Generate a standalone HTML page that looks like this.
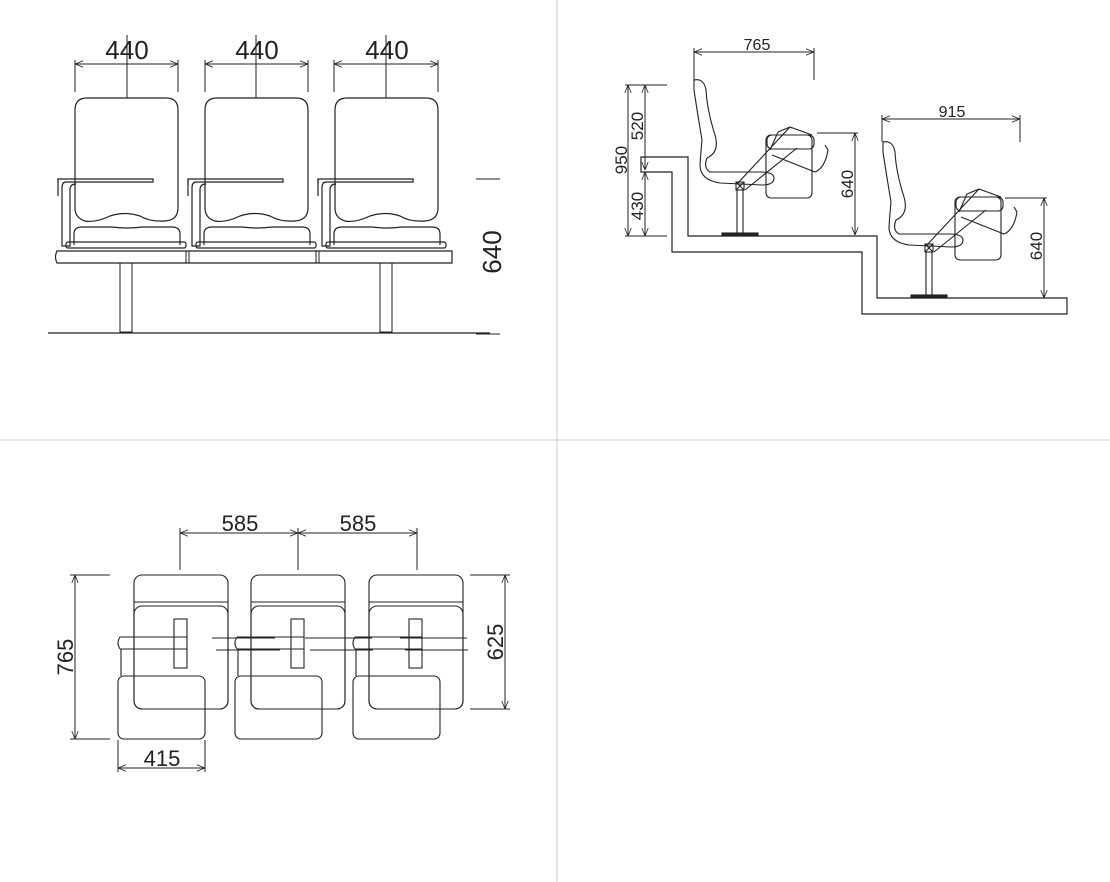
<!DOCTYPE html>
<html><head><meta charset="utf-8"><style>
html,body{margin:0;padding:0;background:#fff;}
svg{display:block;}
text{font-family:"Liberation Sans",sans-serif;fill:#222;}
</style></head><body>
<svg width="1110" height="882" viewBox="0 0 1110 882" xmlns="http://www.w3.org/2000/svg">
<defs>
<marker id="a" viewBox="0 0 10 10" refX="10" refY="5" markerWidth="8" markerHeight="8" orient="auto-start-reverse"><path d="M0,1 L10,5 L0,9" fill="none" stroke="#222" stroke-width="1"/></marker>
<g id="fs" fill="none" stroke="#222" stroke-width="1.2">
<path d="M75,110 Q75,98 87,98 L166,98 Q178,98 178,110 L178,208 Q178,220 165,221 Q150,222 140,216 Q125,211 110,216 Q95,223 85,221 Q75,218 75,208 Z"/>
<path d="M74,245 L74,234 Q74,227 82,227 L112,227 Q127,229 142,227 L172,227 Q180,227 180,234 L180,245"/>
<rect x="66" y="242" width="120" height="6" rx="2"/>
<path d="M58,183 L58,179 L153,179 L153,182 L66,182 Q62,182 62,188 L62,246 L70,246 L70,190 Q70,184 76,184"/>
<path d="M58,179 L58,196"/>
</g>
<g id="sc" fill="none" stroke="#222" stroke-width="1.1">
<path d="M694,80 Q704,78 706,90 Q707,110 715,135 Q720,152 707,158 Q703,168 710,172 L760,172 Q774,172 774,178 Q774,185 762,185 L720,183 Q700,180 700,165 Q701,150 702,140 Q697,110 694,90 Z"/>
<rect x="766" y="135" width="46" height="63" rx="5"/>
<rect x="767" y="135" width="47" height="14" rx="5"/>
<path d="M778,132 L790,127 L812,135 M778,132 L770,150"/>
<path d="M737,184 L790,127 M745,190 L797,148 M772,155 L815,172 Q825,168 828,150 L825,145"/>
<rect x="736" y="182" width="8" height="8"/><path d="M736,182 L744,190 M744,182 L736,190"/>
<path d="M737,190 L737,235 M743,190 L743,235"/>
<rect x="722" y="233" width="36" height="3" fill="#222"/>
</g>
<g id="pv" fill="none" stroke="#222" stroke-width="1.1">
<rect x="134" y="575" width="94" height="134" rx="8"/>
<path d="M134,602 L228,602"/>
<rect x="134" y="606" width="94" height="103" rx="8"/>
<rect x="174" y="619" width="13" height="49"/>
<rect x="118" y="676" width="87" height="63" rx="6"/>
<path d="M120,637 L187,637 M120,649 L187,649 M120,637 Q116,643 120,649 M121,649 L121,676"/>
</g>
</defs>
<path d="M557,0 L557,882 M0,440 L1110,440" stroke="#ccc" stroke-width="1"/>
<!-- top left -->
<use href="#fs"/><use href="#fs" x="130"/><use href="#fs" x="260"/>
<path d="M57,251 L452,251 L452,263 L57,263 Q54,257 57,251 Z" fill="none" stroke="#222" stroke-width="1.2"/>
<path d="M186,251 L186,263 M189,251 L189,263 M316,251 L316,263 M319,251 L319,263" stroke="#222"/>
<rect x="120" y="263" width="12" height="69" fill="none" stroke="#222"/>
<rect x="380" y="263" width="12" height="69" fill="none" stroke="#222"/>
<path d="M48,333 L490,333" stroke="#222" stroke-width="1.2"/>
<g stroke="#222" stroke-width="1" fill="none">
<path d="M75,64 L178,64" marker-start="url(#a)" marker-end="url(#a)"/><path d="M75,60 L75,92 M178,60 L178,92 M127,35 L127,98"/>
<path d="M205,64 L308,64" marker-start="url(#a)" marker-end="url(#a)"/><path d="M205,60 L205,92 M308,60 L308,92 M256,35 L256,98"/>
<path d="M334,64 L438,64" marker-start="url(#a)" marker-end="url(#a)"/><path d="M334,60 L334,92 M438,60 L438,92 M386,35 L386,98"/>
<path d="M476,179 L500,179 M476,334 L500,334"/>
</g>
<text x="127" y="59" font-size="26" text-anchor="middle">440</text>
<text x="257" y="59" font-size="26" text-anchor="middle">440</text>
<text x="387" y="59" font-size="26" text-anchor="middle">440</text>
<text transform="translate(501,252) rotate(-90)" font-size="26" text-anchor="middle">640</text>
<!-- top right -->
<path d="M641,157 L688,157 L688,236 L877,236 L877,298 L1067,298 L1067,314 L862,314 L862,252 L672,252 L672,172 L641,172 Z" fill="none" stroke="#222" stroke-width="1.2"/>
<use href="#sc"/><use href="#sc" x="189" y="62"/>
<g stroke="#222" stroke-width="1" fill="none">
<path d="M694,52 L814,52" marker-start="url(#a)" marker-end="url(#a)"/><path d="M694,48 L694,80 M814,48 L814,80"/>
<path d="M882,119 L1020,119" marker-start="url(#a)" marker-end="url(#a)"/><path d="M882,115 L882,142 M1020,115 L1020,142"/>
<path d="M628,85 L628,236" marker-start="url(#a)" marker-end="url(#a)"/>
<path d="M645,85 L645,170" marker-start="url(#a)" marker-end="url(#a)"/>
<path d="M645,172 L645,236" marker-start="url(#a)" marker-end="url(#a)"/>
<path d="M625,85 L667,85 M625,236 L667,236"/>
<path d="M855,133 L855,235" marker-start="url(#a)" marker-end="url(#a)"/><path d="M817,133 L858,133"/>
<path d="M1044,198 L1044,298" marker-start="url(#a)" marker-end="url(#a)"/><path d="M1005,198 L1047,198"/>
</g>
<text x="757" y="50" font-size="16" text-anchor="middle">765</text>
<text x="952" y="117" font-size="16" text-anchor="middle">915</text>
<text transform="translate(627,160) rotate(-90)" font-size="17" text-anchor="middle">950</text>
<text transform="translate(643,126) rotate(-90)" font-size="17" text-anchor="middle">520</text>
<text transform="translate(643,206) rotate(-90)" font-size="17" text-anchor="middle">430</text>
<text transform="translate(853,184) rotate(-90)" font-size="17" text-anchor="middle">640</text>
<text transform="translate(1042,246) rotate(-90)" font-size="17" text-anchor="middle">640</text>
<!-- bottom left -->
<use href="#pv"/><use href="#pv" x="117"/><use href="#pv" x="235"/>
<g stroke="#222" stroke-width="1.1" fill="none">
<path d="M212,638 L275,638 M216,650 L280,650"/>
<path d="M305,638 L372,638 M310,650 L373,650"/>
<path d="M400,638 L467,638 M405,650 L468,650"/>
</g>
<g stroke="#222" stroke-width="1" fill="none">
<path d="M180,533 L298,533" marker-start="url(#a)" marker-end="url(#a)"/>
<path d="M298,533 L417,533" marker-start="url(#a)" marker-end="url(#a)"/>
<path d="M180,528 L180,570 M298,528 L298,570 M417,528 L417,570"/>
<path d="M75,575 L75,739" marker-start="url(#a)" marker-end="url(#a)"/><path d="M70,575 L110,575 M70,739 L110,739"/>
<path d="M505,575 L505,709" marker-start="url(#a)" marker-end="url(#a)"/><path d="M470,575 L510,575 M470,709 L510,709"/>
<path d="M118,768 L205,768" marker-start="url(#a)" marker-end="url(#a)"/><path d="M118,740 L118,772 M205,740 L205,772"/>
</g>
<text x="240" y="531" font-size="22" text-anchor="middle">585</text>
<text x="358" y="531" font-size="22" text-anchor="middle">585</text>
<text x="162" y="766" font-size="22" text-anchor="middle">415</text>
<text transform="translate(73,657) rotate(-90)" font-size="22" text-anchor="middle">765</text>
<text transform="translate(503,642) rotate(-90)" font-size="22" text-anchor="middle">625</text>
</svg>
</body></html>
